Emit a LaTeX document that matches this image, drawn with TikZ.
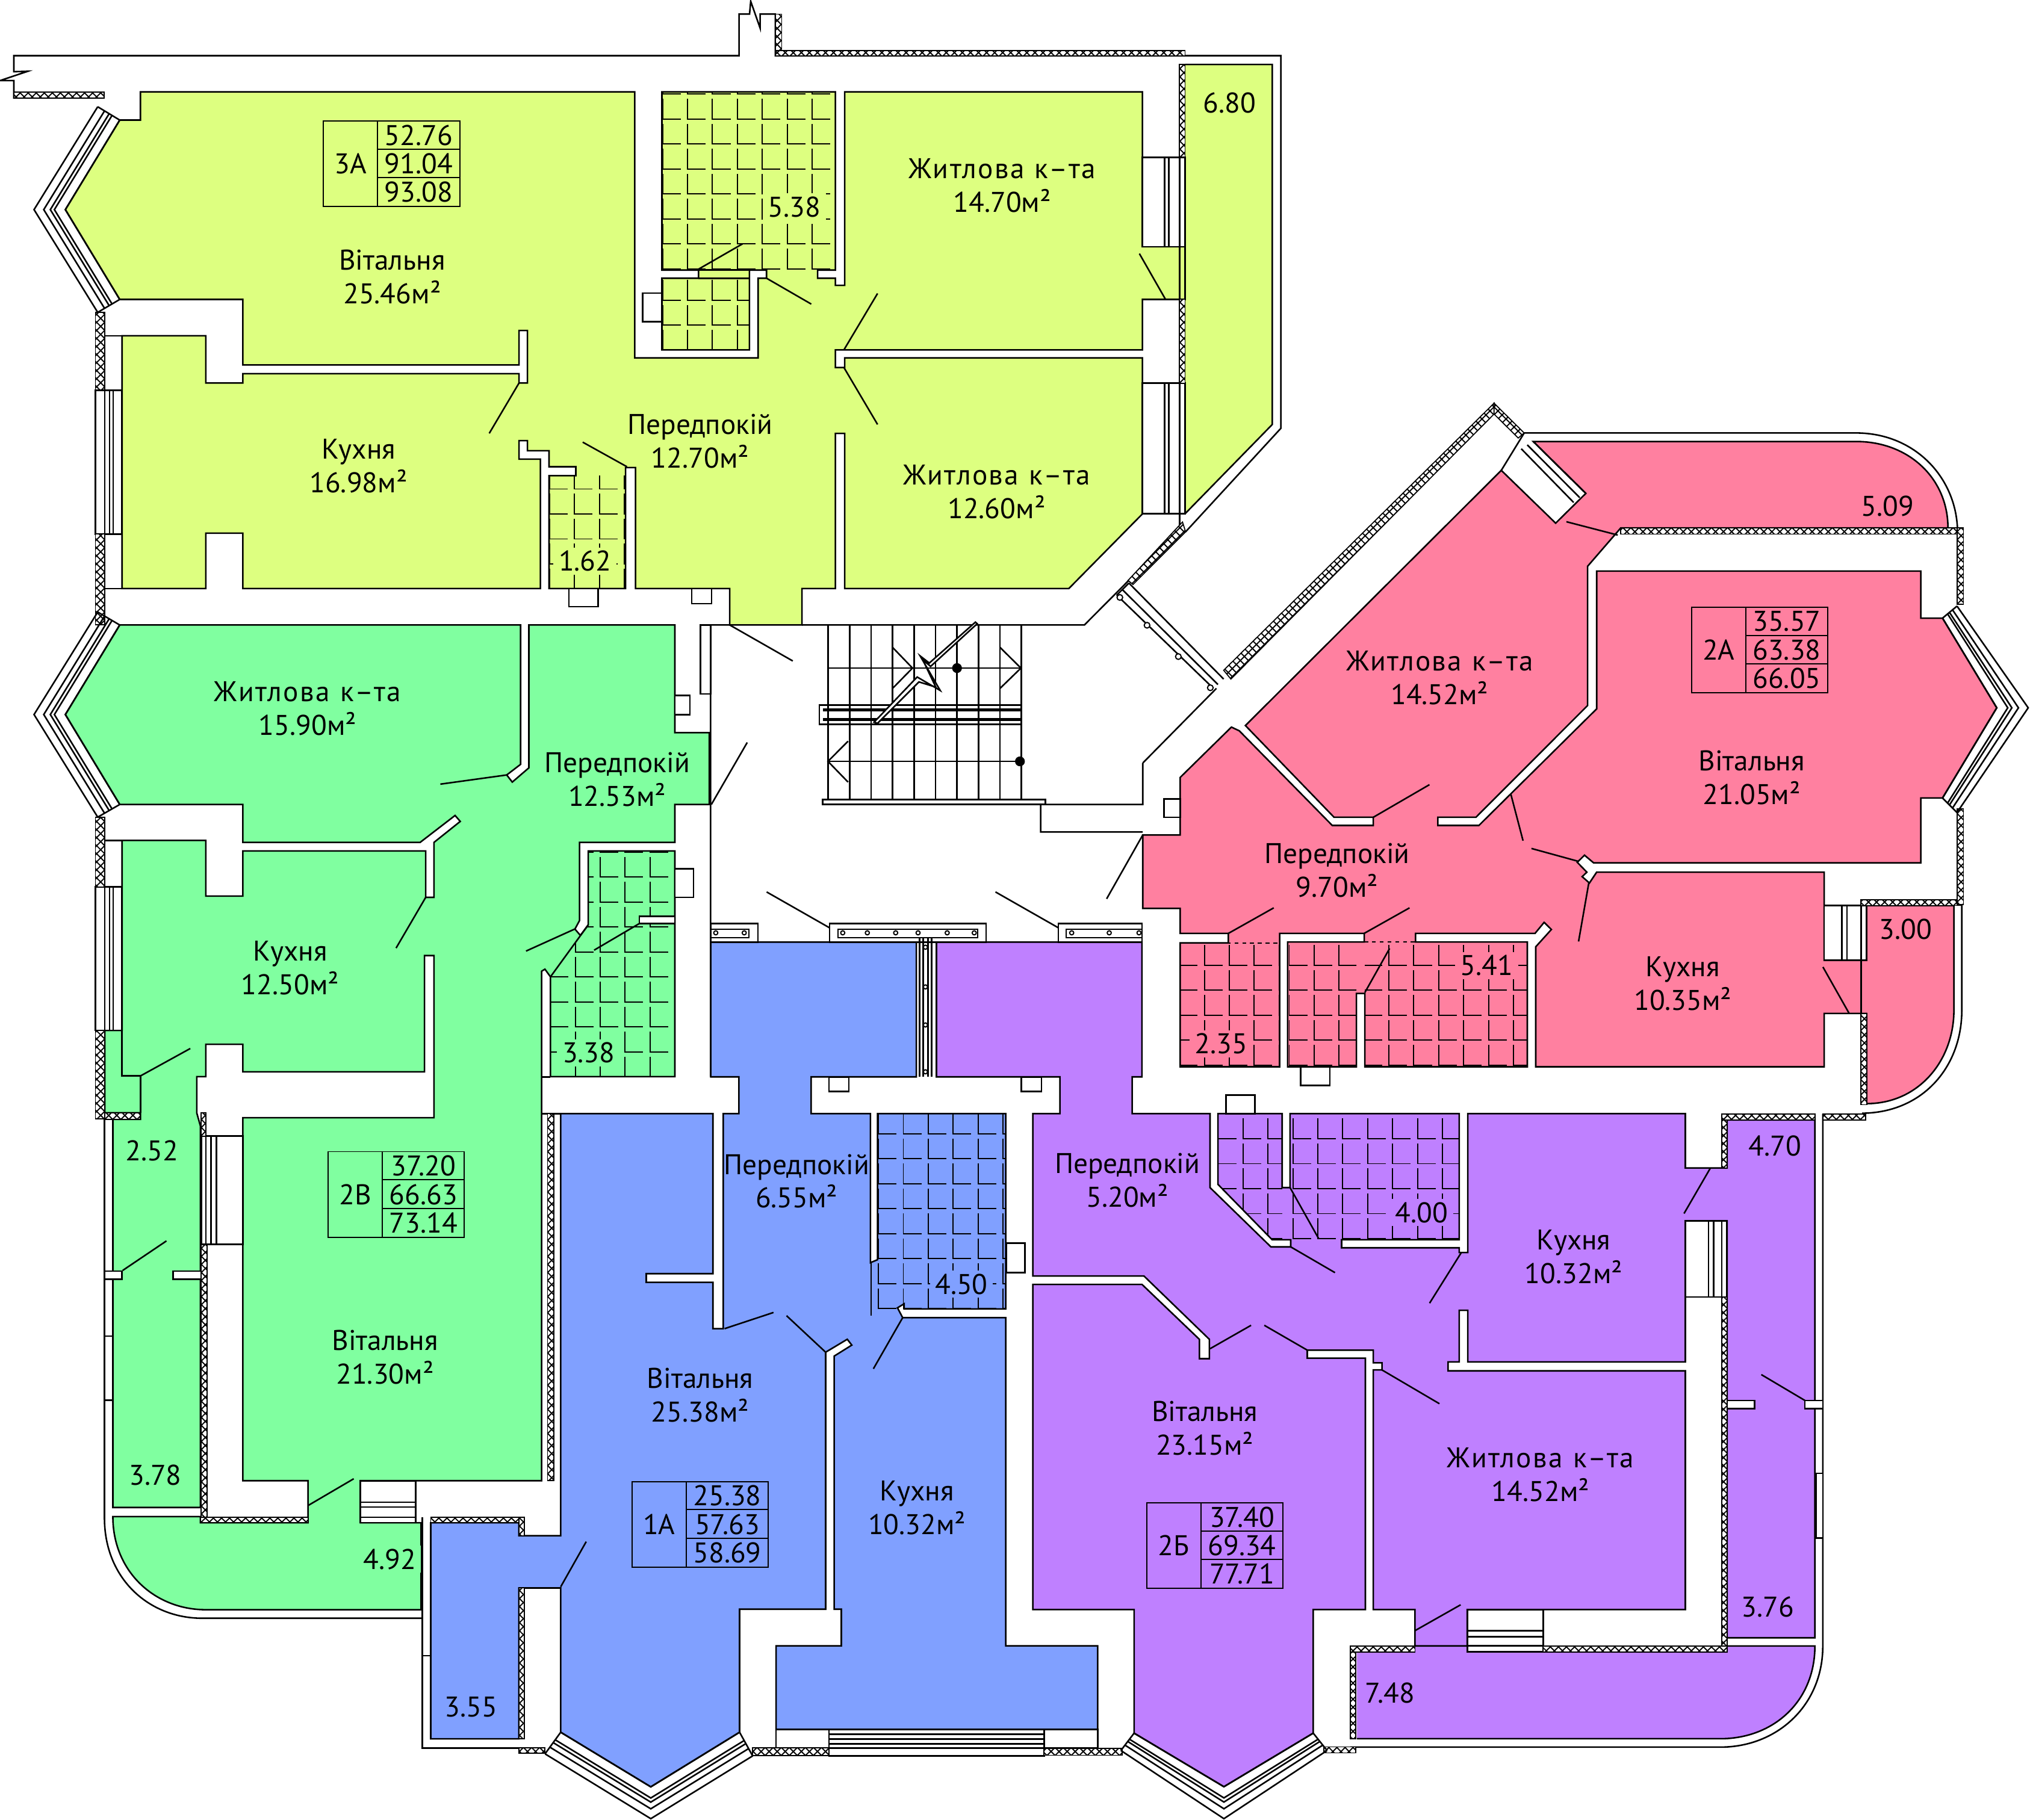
\documentclass[tikz,border=0pt]{standalone}
\usepackage{fontspec}
\setmainfont{PT Sans}
\usetikzlibrary{calc, patterns.meta}

\definecolor{flatYellow}{RGB}{221,255,128}
\definecolor{flatGreen}{RGB}{128,255,160}
\definecolor{flatBlue}{RGB}{128,160,255}
\definecolor{flatPurple}{RGB}{191,128,255}
\definecolor{flatRed}{RGB}{255,128,160}

\tikzset{
	wallline/.style = {line width = 1.2pt, line join = miter},
	thinline/.style = {line width = 0.9pt},
	whitebox/.style = {draw, line width = 1.2pt, fill = white},
	hatchwall/.style = {draw, line width = 0.8pt,
		preaction = {fill = white},
		preaction = {pattern = {Lines[angle = 45, distance = 4.4pt, line width = 0.9pt]}},
		pattern = {Lines[angle = -45, distance = 4.4pt, line width = 0.9pt]}},
	roomtext/.style = {align = center, inner sep = 1pt, font = \fontsize{22}{26}\selectfont},
	areatext/.style = {inner sep = 1.5pt, font = \fontsize{22}{26}\selectfont},
}

\newcommand{\bedname}{{\addfontfeature{LetterSpace=5}Житлова\hspace{8pt}к–та}}
\newcommand{\baywindow}[6]{
	\foreach \t in {0,0.31,0.52,0.65,1}
		\draw [wallline] ($(#4)!\t!(#1)$) -- ($(#5)!\t!(#2)$) -- ($(#6)!\t!(#3)$);
	\draw [wallline] (#4) -- (#1) (#6) -- (#3);
}
\newcommand{\tilegrid}[3]{
	\begin{scope}
		\clip #1;
		\foreach \i in {-2,...,10}
			\foreach \j in {-1,...,8}
				\draw [thinline] ({#2+\i*19.25},{#3+\j*19.3-15.6}) -- ++(0,15.6) -- ++(14,0);
	\end{scope}
}
\newcommand{\flatbox}[7]{
	\begin{scope}[shift = {(#2,#3)}]
		\draw [thinline] (0,0) rectangle (105.4,66.2) (42,0) -- (42,66.2) (42,21.8) -- (105.4,21.8) (42,43.9) -- (105.4,43.9);
		\node [areatext] (#1Name) at (21,33) {#4};
		\node [areatext] (#1Living) at (73.7,11) {#5};
		\node [areatext] (#1Total) at (73.7,33) {#6};
		\node [areatext] (#1Full) at (73.7,55) {#7};
	\end{scope}
}
\newcommand{\roomlabel}[5]{
	\node [roomtext] (#1) at (#2,#3) {#4\\#5м²};
}
\newcommand{\arealabel}[5]{
	\node [areatext, fill = #5, inner xsep = 4pt, inner ysep = 2.5pt] (#1) at (#2,#3) {#4};
}

\begin{document}
\begin{tikzpicture}[x = 1pt, y = -1pt]
	\useasboundingbox (0,0) rectangle (1568.4,1406.5);

	\begin{scope}
		\fill [flatYellow] (915.6,49.8) -- (983,49.8) -- (983,328) -- (915.6,397) -- cycle;
		\draw [wallline] (915.6,49.8) -- (983,49.8) -- (983,328) -- (915.6,397);
		\draw [wallline] (911.3,43) -- (989.6,43) -- (989.6,331) -- (916,411);
		\draw [wallline, fill = flatYellow] (108.5,71) -- (490.4,71) -- (490.4,276.6) -- (585.7,276.6) -- (585.7,215) -- (592.2,215) -- (592.2,208.7) -- (579,208.7) -- (579,270.4) -- (511.4,270.4) -- (511.4,215) -- (539.7,215) -- (539.7,208.7) -- (511.4,208.7) -- (511.4,71) -- (645.4,71) -- (645.4,208.7) -- (631.7,208.7) -- (631.7,215) -- (645.4,215) -- (645.4,220.5) -- (652.6,220.5) -- (652.6,71) -- (882.6,71) -- (882.6,190.6) -- (915.6,190.6) -- (915.6,231.4) -- (882.6,231.4) -- (882.6,270.4) -- (652.6,270.4) -- (645.4,270.4) -- (645.4,284) -- (652.6,284) -- (652.6,276.6) -- (882.6,276.6) -- (882.6,397.2) -- (825.8,454.8) -- (652.6,454.8) -- (652.6,334.9) -- (645.4,334.9) -- (645.4,454.8) -- (619.6,454.8) -- (619.6,483) -- (563.8,483) -- (563.8,454.8) -- (491,454.8) -- (491,361.3) -- (483.3,361.3) -- (483.3,454.8) -- (424.2,454.8) -- (424.2,367.6) -- (444.9,367.6) -- (444.9,360.7) -- (424.2,360.7) -- (424.2,348.3) -- (407.5,348.3) -- (407.5,340.5) -- (401,340.5) -- (401,354.8) -- (417.5,354.8) -- (417.5,454.8) -- (187.6,454.8) -- (187.6,412) -- (159,412) -- (159,454.8) -- (94.3,454.8) -- (94.3,259.5) -- (159,259.5) -- (159,296) -- (187.6,296) -- (187.6,288.8) -- (401,288.8) -- (401,296) -- (407.5,296) -- (407.5,255.4) -- (401,255.4) -- (401,282) -- (187.6,282) -- (187.6,231.4) -- (92.5,231.4) -- (50.5,162) -- (92.5,92.8) -- (108.5,92.8) -- cycle;
		\draw [wallline] (539.7,208.7) -- (579,208.7) (539.7,215) -- (579,215);
	\end{scope}

	\begin{scope}
		\draw [wallline, fill = flatGreen] (278.4,1144.3) -- (418.4,1144.3) -- (418.4,750.6) -- (421,749) -- (425.3,754.9) -- (425.3,832) -- (521.4,832) -- (521.4,657.6) -- (454.5,657.6) -- (454.5,714.7) -- (448.4,722.9) -- (444.2,718) -- (447.7,711.5) -- (447.7,651) -- (521.4,651) -- (521.4,621.7) -- (548,621.7) -- (548,566.2) -- (521.4,566.2) -- (521.4,483) -- (408.6,483) -- (408.6,593.4) -- (395.8,604.4) -- (391.5,598.9) -- (402.2,590.7) -- (402.2,483) -- (92.5,483) -- (50.5,552.2) -- (92.5,621.7) -- (187.6,621.7) -- (187.6,651) -- (324.6,651) -- (351.6,630.2) -- (355.6,634.8) -- (335.3,651) -- (335.3,693.5) -- (328.9,693.5) -- (328.9,657.6) -- (187.6,657.6) -- (187.6,692.5) -- (159,692.5) -- (159,649.5) -- (94.3,649.5) -- (94.3,796.3) -- (81,796.3) -- (81,860) -- (108.5,860) -- (108.5,865) -- (87.2,865) -- (87.2,1165) -- (154.8,1165) -- (154.8,870) -- (152,860) -- (152,832) -- (159,832) -- (159,807) -- (187.6,807) -- (187.6,828.3) -- (328,828.3) -- (328,738.5) -- (335.3,738.5) -- (335.3,863.8) -- (187.6,863.8) -- (187.6,1144.3) -- (238,1144.3) -- (238,1176.8) -- (154.8,1176.8) -- (154.8,1172) -- (87.2,1172) .. controls (87.2,1215) and (120,1244) .. (158.9,1244) -- (325.3,1244) -- (325.3,1176.8) -- (278.4,1176.8) -- cycle;
		\draw [wallline] (94.3,796.3) -- (94.3,831.5) -- (108.5,831.5) -- (108.5,860);
		\draw [wallline] (80.7,865) -- (80.7,1173) .. controls (80.7,1220) and (115,1250.6) .. (156.3,1250.6) -- (326.3,1250.6);
		\draw [wallline] (418.4,832.2) -- (425.3,832.2) (418.4,860.6) -- (433.2,860.6);
	\end{scope}

	\begin{scope}
		\draw [wallline, fill = flatBlue] (549.1,728.1) -- (708,728.1) -- (708,832.2) -- (626.7,832.2) -- (626.7,860.6) -- (672.5,860.6) -- (672.5,975.8) -- (678,973.5) -- (678,860.6) -- (777,860.6) -- (777,1011.6) -- (698.5,1011.6) -- (698.5,1007.6) -- (693.4,1010.7) -- (697.4,1018.3) -- (777,1018.3) -- (777,1271.9) -- (848.1,1271.9) -- (848.1,1336.6) -- (599.6,1336.6) -- (599.6,1271.9) -- (650,1271.9) -- (650,1243.6) -- (644.5,1243.6) -- (644.5,1048) -- (658.1,1039.5) -- (654.6,1035) -- (637.9,1045) -- (637.9,1243.6) -- (571.4,1243.6) -- (571.4,1338.7) -- (502.8,1380.9) -- (433.2,1338.7) -- (433.2,1227.2) -- (400.9,1227.2) -- (400.9,1343.8) -- (332.8,1343.8) -- (332.8,1176.8) -- (400.9,1176.8) -- (400.9,1186.8) -- (433.2,1186.8) -- (433.2,860.6) -- (550.8,860.6) -- (550.8,984.3) -- (499.3,984.3) -- (499.3,991) -- (550.8,991) -- (550.8,1026.8) -- (558.8,1026.8) -- (558.8,860.6) -- (570.9,860.6) -- (570.9,832.2) -- (549.1,832.2) -- cycle;
		\draw [wallline] (326.3,1172.6) -- (326.3,1350.8) -- (421,1350.8) (326.3,1279.5) -- (332.8,1279.5);
		\draw [thinline] (673.2,975.8) -- (673.2,1016.8);
	\end{scope}

	\begin{scope}
		\draw [wallline, fill = flatPurple] (723.5,728.1) -- (882.3,728.1) -- (882.3,832.2) -- (874.7,832.2) -- (874.7,860.6) -- (934.9,860.6) -- (934.9,917.8) -- (981.9,963.6) -- (997.2,963.6) -- (997.2,958.1) -- (982.9,958.1) -- (941,915.3) -- (941,860.6) -- (990.6,860.6) -- (990.6,917.8) -- (996.7,917.8) -- (996.7,860.6) -- (1127.4,860.6) -- (1127.4,958.1) -- (1036.5,958.1) -- (1036.5,964.3) -- (1127.4,964.3) -- (1127.4,968) -- (1134,968) -- (1134,860.6) -- (1302.1,860.6) -- (1302.1,902.6) -- (1334.3,902.6) -- (1334.3,865.5) -- (1402.2,865.5) -- (1402.2,1265.7) -- (1334.3,1265.7) -- (1334.3,943.6) -- (1302.1,943.6) -- (1302.1,1052.5) -- (1134,1052.5) -- (1134,1012.6) -- (1127.4,1012.6) -- (1127.4,1052.5) -- (1118.8,1052.5) -- (1118.8,1059.4) -- (1302.1,1059.4) -- (1302.1,1243.9) -- (1133.6,1243.9) -- (1133.6,1272) -- (1093.2,1272) -- (1093.2,1243.9) -- (1061,1243.9) -- (1061,1058.7) -- (1067.7,1058.7) -- (1067.7,1053.2) -- (1061,1053.2) -- (1061,1043.4) -- (1010,1043.4) -- (1010,1049.6) -- (1054.9,1049.6) -- (1054.9,1243.9) -- (1014.6,1243.9) -- (1014.6,1339.4) -- (945.6,1380.8) -- (876.2,1339.4) -- (876.2,1243.9) -- (798,1243.9) -- (798,992.6) -- (882.3,992.6) -- (926.7,1035.1) -- (926.7,1050) -- (934.4,1050) -- (934.4,1035.1) -- (883.8,986.1) -- (798,986.1) -- (798,860.6) -- (818.9,860.6) -- (818.9,832.2) -- (723.5,832.2) -- cycle;
		\fill [flatPurple] (1048.3,1276.6) -- (1093.2,1276.6) -- (1093.2,1272) -- (1133.6,1272) -- (1133.6,1276.6) -- (1334.3,1276.6) -- (1334.3,1272) -- (1402.2,1272) .. controls (1402.2,1315) and (1370,1343.7) .. (1329.2,1343.7) -- (1048.3,1343.7) -- cycle;
		\draw [wallline] (1334.3,1272) -- (1402.2,1272) .. controls (1402.2,1315) and (1370,1343.7) .. (1329.2,1343.7) -- (1048.3,1343.7) (1093.2,1272) -- (1133.6,1272);
		\draw [wallline] (1043.2,1350.2) -- (1329.2,1350.2) .. controls (1373,1350.2) and (1408.3,1318) .. (1408.3,1272) -- (1408.3,860.8);
	\end{scope}

	\begin{scope}
		\draw [wallline, fill = flatRed] (951.4,561.9) -- (957.5,564.8) -- (1029.3,637.9) -- (1061,637.9) -- (1061,631.6) -- (1030.7,631.6) -- (962.2,560.7) -- (1159.9,363.5) -- (1201.9,404.3) -- (1225.2,381.3) -- (1184.6,341.2) -- (1434,341.2) .. controls (1475,341.2) and (1505,370) .. (1505,408) -- (1252.2,408) -- (1226.6,437.6) -- (1226.6,545.2) -- (1140.3,631.6) -- (1110.9,631.6) -- (1110.9,637.9) -- (1142.6,637.9) -- (1233.6,547.8) -- (1233.6,441.3) -- (1484,441.3) -- (1484,477.7) -- (1500.8,477.7) -- (1542.7,547) -- (1500.8,616.7) -- (1484,616.7) -- (1484,666.8) -- (1231.2,666.8) -- (1224.2,660.9) -- (1218.6,666.4) -- (1226,674) -- (1222.4,677.5) -- (1228,682.4) -- (1233.6,674) -- (1409.4,674) -- (1409.4,742) -- (1442,742) -- (1442,699.8) -- (1509.6,699.8) -- (1509.6,780.6) .. controls (1509.6,820) and (1482,853) .. (1442,852.9) -- (1442,783.2) -- (1409.4,783.2) -- (1409.4,824.4) -- (1186.5,824.4) -- (1186.5,731.7) -- (1198.6,718.3) -- (1193,712.8) -- (1186,721.3) -- (1093.7,721.3) -- (1093.7,728) -- (1180,728) -- (1180,824.4) -- (1054.5,824.4) -- (1054.5,767.7) -- (1048,767.7) -- (1048,824.4) -- (994.8,824.4) -- (994.8,728) -- (1054,728) -- (1054,721.3) -- (988.7,721.3) -- (988.7,824.4) -- (911.8,824.4) -- (911.8,728.7) -- (949,728.7) -- (949,721.3) -- (911.8,721.3) -- (911.8,702) -- (882.9,702) -- (882.9,645.3) -- (911.8,645.3) -- (911.8,600.8) -- cycle;
		\draw [wallline] (1177.6,334.6) -- (1434,334.6) .. controls (1480,334.6) and (1512.4,370) .. (1512.4,411.7);
		\draw [wallline] (1515.7,699.8) -- (1515.7,780.6) .. controls (1515.7,825) and (1485,860) .. (1438.7,860.3);
		\draw [wallline] (1437.8,742) -- (1437.8,783.2);
		\draw [thinline, dashed] (911.8,728.7) -- (988.7,728.7) (1054,728) -- (1093.7,728);
	\end{scope}

	\tilegrid{(511.4,71) rectangle (645.4,208.7)}{531.2}{91.9}
	\tilegrid{(511.4,215) rectangle (579,270.4)}{531.2}{232}
	\tilegrid{(424.2,367.6) rectangle (483.3,454.8)}{443.8}{377.9}
	\tilegrid{(454.5,657.6) -- (521.4,657.6) -- (521.4,832) -- (425.3,832) -- (425.3,754.9) -- (454.5,714.7) -- cycle}{463.7}{677.8}
	\tilegrid{(678,860.6) rectangle (777,1011.6)}{697.9}{876.2}
	\tilegrid{(941,860.6) -- (990.6,860.6) -- (990.6,958.1) -- (982.9,958.1) -- (941,915.3) -- cycle}{960.4}{880}
	\tilegrid{(996.7,860.6) rectangle (1127.4,958.1)}{960.4}{880}
	\tilegrid{(911.8,728.7) rectangle (988.7,824.4)}{930.5}{746}
	\tilegrid{(994.8,728) rectangle (1048,824.4)}{1015.3}{746}
	\tilegrid{(1054.5,728) rectangle (1180,824.4)}{1015.3}{746}

	\foreach \xa/\ya/\xb/\yb in {73.7/301.5/94.3/412.7, 73.7/685.4/94.3/796.3, 882.6/121.5/915.6/190.6, 882.6/296/915.6/397, 155.5/877.9/187.6/961.7, 80.7/1032.5/87.2/1082, 80.7/982.4/94.3/988.5, 133.6/982.4/159/988.5, 494/708.2/521.4/713.7, 278.4/1144.3/321.2/1176.8, 1302.1/943.6/1334.3/1002.4, 1133.6/1243.9/1192.3/1276.6, 1409.4/699.8/1442/742, 1403.2/1138.6/1408.3/1188.7, 1330.2/1082.3/1355.7/1088.5, 1394.5/1082.3/1408.3/1088.5, 599.6/1336.6/640.4/1350.8, 640.4/1336.6/806.7/1356.9, 806.7/1336.6/848.1/1351, 496.5/226.5/511.4/248.6, 439.5/454.8/462/468.8, 534.4/454.8/549.8/466.6, 521.4/537.5/533/552.2, 521.4/671.3/535.8/693.5, 640.5/832.2/655.9/843.6, 789.2/832.2/804.7/843.6, 777.6/960.7/791.9/983.5, 947.2/846.3/969.6/860.6, 1005/824.4/1027.4/838.8, 899.2/617.5/911.8/631.6, 541.3/483/549/536.2}
		\path [whitebox] (\xa,\ya) rectangle (\xb,\yb);

	\draw [wallline] (81,301.5) -- (81,412.7) (84.7,301.5) -- (84.7,412.7) (87.5,301.5) -- (87.5,412.7)
		(81,685.4) -- (81,796.3) (84.7,685.4) -- (84.7,796.3) (87.5,685.4) -- (87.5,796.3)
		(81,259.5) -- (94.3,259.5) (81,259.5) -- (81,301.5) (81,412.7) -- (81,454.8) -- (94.3,454.8) (81,649.5) -- (81,685.4) -- (81,649.5) -- (94.3,649.5);
	\draw [wallline] (899.9,121.5) -- (899.9,190.6) (903,121.5) -- (903,190.6) (911.3,121.5) -- (911.3,190.6)
		(899.9,296) -- (899.9,397) (903,296) -- (903,397) (911.3,190.6) -- (911.3,231.4) (911.3,296) -- (911.3,411);
	\draw [wallline] (163,877.9) -- (163,961.7) (167.3,877.9) -- (167.3,961.7) (159,877.9) -- (159,961.7);
	\draw [wallline] (1320,943.6) -- (1320,1002.4) (1324,943.6) -- (1324,1002.4) (1330.2,943.6) -- (1330.2,1002.4);
	\draw [wallline] (1133.6,1260.2) -- (1192.3,1260.2) (1133.6,1264.9) -- (1192.3,1264.9) (1133.6,1271.8) -- (1192.3,1271.8);
	\draw [wallline] (278.4,1161) -- (321.2,1161) (278.4,1164.6) -- (321.2,1164.6) (278.4,1172.6) -- (321.2,1172.6);
	\draw [wallline] (1423,699.8) -- (1423,742) (1427,699.8) -- (1427,742) (1437.8,699.8) -- (1437.8,742);
	\draw [wallline] (640.4,1340.2) -- (806.7,1340.2) (640.4,1343.9) -- (806.7,1343.9) (640.4,1347.8) -- (806.7,1347.8) (640.4,1350.8) -- (806.7,1350.8);

	\draw [wallline] (80.4,75.7) -- (10.7,75.7) -- (10.7,62.3) -- (0,62.3) -- (21.4,55.1) -- (10.7,55.4) -- (10.7,43) -- (571,43) -- (571,10.9) -- (579.1,10.9) -- (580,1) -- (587.3,21.8) -- (587.3,10.9) -- (599,10.9) -- (599,43) -- (915.6,43);

	\foreach \xa/\ya/\xb/\yb in {10.7/71/80.4/75.7, 599/10.9/604/39, 599/39/915.6/43, 911.3/49.8/915.6/121.5, 911.3/231.4/915.6/296, 73.7/241.4/81/301.5, 73.7/412.7/81/482.8, 73.7/631.5/81/685.4, 73.7/796.3/81/864.8, 81/860/108.5/865, 155.5/860/159/878, 155.3/962/159.9/1172.6, 154.8/1172.6/238/1176.8, 423/860.6/428/1144.3, 332.8/1172.6/403.4/1176.8, 400.9/1172.6/405/1186.8, 400.9/1227.2/405/1343.8, 401/1350.8/421/1354.8, 581.5/1350.8/640.4/1356.9, 806.7/1351/867/1356.5, 1022.8/1350/1047.3/1354.6, 1043.2/1272/1047.3/1343.7, 1043.2/1272/1093.2/1276.6, 1192.3/1272/1334.3/1276.6, 1330.2/860.8/1334.3/902.6, 1330.2/1002.4/1334.3/1271.8, 1330.2/860.8/1402.2/865.5, 1408.3/860.8/1441.5/865.5, 1437.8/783.2/1442.2/853.7, 1437.8/695.3/1515.7/699.8, 1512/408/1517/467, 1512/625/1517/699, 1252.2/408/1512/412.8}
		\path [hatchwall] (\xa,\ya) rectangle (\xb,\yb);
	\path [hatchwall] (913.6,403.4) -- (916,411) -- (875.4,451.7) -- (871.5,448.6) -- cycle;
	\path [hatchwall] (945.4,518) -- (1154.3,311.6) -- (1154.3,320) -- (951,524.8) -- cycle;
	\path [hatchwall] (1154.3,311.6) -- (1177.6,334.6) -- (1173,338.5) -- (1154.3,320) -- cycle;

	\baywindow{92.5,92.8}{50.5,162}{92.5,231.4}{75.5,82.5}{26.3,162}{75.5,241.4}
	\baywindow{92.5,483}{50.5,552.2}{92.5,621.7}{75.5,473}{26.3,552.2}{75.5,631.5}
	\baywindow{1500.8,477.7}{1542.7,547}{1500.8,616.7}{1512,468.4}{1567,547}{1512,627.9}
	\baywindow{433.2,1338.7}{502.8,1380.9}{571.4,1338.7}{421.1,1355.4}{502.8,1405.5}{581.5,1357}
	\baywindow{876.2,1339.4}{945.6,1380.8}{1014.6,1339.4}{866,1352.8}{945.6,1405.5}{1025.3,1352.8}

	\draw [wallline] (1184.6,341.2) -- (1225.2,381.3) (1180,343.8) -- (1220.5,384.6) (1175.3,346.8) -- (1215.8,388.3) (1177.6,334.6) -- (1159.9,363.5);
	\draw [wallline] (862.8,459.9) -- (937.5,532) (867.5,456) -- (941,529) (872.2,450.6) -- (945.4,524.8) (862.8,459.9) -- (872.2,450.6);
	\foreach \xc/\yc in {865.2/461.7, 886.2/483.2, 910.4/507.4, 935.1/531.5}
		\draw [thinline, fill = white] (\xc,\yc) circle (2.2);

	\begin{scope}
		\draw [wallline] (549,483) -- (549,832.2) (549,483) -- (563.8,483) (619.6,483) -- (837.8,483) -- (872,448.6);
		\draw [wallline] (882.9,589.7) -- (939.8,532) (882.9,589.7) -- (882.9,621.7) -- (804,621.7) -- (804,643) -- (882.9,643);
		\foreach \xs in {639.7,656.4,673,689.6,706.2,722.8,739.4,756,772.6,789.2}
			\draw [wallline] (\xs,483) -- (\xs,621);
		\draw [wallline] (639.7,516.3) -- (788.8,516.3) (639.7,588.4) -- (788.8,588.4);
		\path [whitebox] (633,545) rectangle (788.8,559.7);
		\draw [line width = 2.2pt] (636,548.6) -- (788.8,548.6) (636,556) -- (788.8,556);
		\foreach \xs in {639.7,656.4,673,689.6,706.2,722.8,739.4,756,772.6,789.2}
			\draw [wallline] (\xs,559.7) -- (\xs,545);
		\path [whitebox] (635.5,617.8) rectangle (807.7,621.7);
		\draw [wallline] (689.6,500.3) -- (705,516.3) -- (689.6,532) (772.6,500.3) -- (788.8,516.3) -- (772.6,532) (655.2,572.8) -- (639.7,588.4) -- (655.2,604.4);
		\fill (739.4,516.3) circle (3.8) (788,588.4) circle (3.8);
		\draw [wallline, fill = white] (753.6,480.8) -- (718,512.4) -- (710.9,506.9) -- (726.4,533.6) -- (708.6,523.2) -- (675.3,558.1) -- (678,559) -- (710,527) -- (723,531) -- (713,510) -- (719,515) -- (755,482) -- cycle;
	\end{scope}

	\begin{scope}
		\path [whitebox] (640.9,713.7) rectangle (761.9,728.1) (549,713.7) rectangle (585.6,728.1) (817.7,713.7) rectangle (882.3,728.1);
		\draw [thinline] (647.3,718) rectangle (755.5,724.5) (549,718) rectangle (578.8,724.5) (823.9,718) rectangle (882.3,724.5);
		\draw [wallline] (708,728.1) -- (708,832.2) (710.5,724.5) -- (710.5,832.2) (713.3,724.5) -- (713.3,832.2) (716.9,724.5) -- (716.9,832.2) (719.9,724.5) -- (719.9,832.2) (723.5,728.1) -- (723.5,832.2);
		\foreach \xc in {651.1,670.1,692,709.3,731.8,752.7,553,575,828,857,880}
			\draw [thinline, fill = white] (\xc,720.9) circle (1.6);
		\foreach \yc in {732,762.7,792.1,828.3}
			\draw [thinline, fill = white] (715,\yc) circle (1.6);
	\end{scope}

	\begin{scope}
		\draw [wallline] (401,296) -- (378,334.9) (484.4,360.7) -- (450.2,341.7) (539.7,208) -- (573.6,188.5) (592.2,215) -- (626.8,235) (652,270.4) -- (678,226.8) (652,284) -- (678,328) (880.3,196) -- (900.5,231.4);
		\draw [wallline] (391.5,598.9) -- (340.2,606) (328.9,693.5) -- (306,732.7) (108.5,831.5) -- (147,810.3) (444,718) -- (406.4,735) (454.5,714.7) -- (425.3,754.9) (494,713.7) -- (459,734.3) (94.8,981.8) -- (128.6,959) (238,1163.5) -- (273.3,1142.8);
		\draw [wallline] (563.8,483) -- (612.5,510.8) (549.6,621.7) -- (577.3,573.8) (640.9,717) -- (592.3,689.3) (817.7,717) -- (769.1,689.3) (882.9,645.3) -- (855,694.6);
		\draw [wallline] (433.2,1226.3) -- (452.9,1191.4) (637.9,1045) -- (607.7,1016.8) (559.8,1026.8) -- (597.6,1014.3) (697.4,1018.3) -- (674.8,1057.8);
		\draw [wallline] (997.2,963.6) -- (1031.4,983.5) (996.7,917.8) -- (1018.7,957) (1129,968) -- (1104.5,1007.1) (1321.5,902.6) -- (1301.1,937.8) (1067.7,1058.7) -- (1112.1,1084.8) (1010,1043.4) -- (976.8,1024.2) (934.9,1042.3) -- (966.6,1024.2) (1093.2,1260.2) -- (1128.5,1240.2) (1394.5,1082.3) -- (1360.8,1062.3);
		\draw [wallline] (1210.2,403.2) -- (1249.9,413.5) (1061,631.6) -- (1104.4,606.4) (1167.3,613.8) -- (1176.7,649.7) (1183.2,655.7) -- (1219.6,665.7) (1227.5,682.4) -- (1219.6,727.6) (949.1,721.3) -- (984.1,701.6) (1054,721.3) -- (1089,701.6) (1054.5,767) -- (1073.6,733) (1408.4,747.3) -- (1428.5,782.9);
	\end{scope}

	\flatbox{flatThreeA}{249.8}{93.5}{3А}{52.76}{91.04}{93.08}
	\flatbox{flatTwoV}{253.4}{890}{2В}{37.20}{66.63}{73.14}
	\flatbox{flatOneA}{488.2}{1144.9}{1А}{25.38}{57.63}{58.69}
	\flatbox{flatTwoB}{885.9}{1161.4}{2Б}{37.40}{69.34}{77.71}
	\flatbox{flatTwoA}{1306.8}{469.2}{2А}{35.57}{63.38}{66.05}

	\roomlabel{livingThreeA}{303}{213.8}{Вітальня}{25.46}
	\roomlabel{kitchenThreeA}{277}{360.2}{Кухня}{16.98}
	\roomlabel{hallThreeA}{541}{341}{Передпокій}{12.70}
	\roomlabel{bedThreeA}{774.3}{143.3}{\bedname}{14.70}
	\roomlabel{bedThreeB}{770}{380}{\bedname}{12.60}
	\roomlabel{bedTwoV}{237.7}{547.6}{\bedname}{15.90}
	\roomlabel{hallTwoV}{476.9}{602.4}{Передпокій}{12.53}
	\roomlabel{kitchenTwoV}{224.2}{748.2}{Кухня}{12.50}
	\roomlabel{livingTwoV}{297.5}{1049}{Вітальня}{21.30}
	\roomlabel{livingOneA}{541}{1078.2}{Вітальня}{25.38}
	\roomlabel{kitchenOneA}{708.5}{1165.2}{Кухня}{10.32}
	\roomlabel{hallOneA}{615.5}{912.8}{Передпокій}{6.55}
	\roomlabel{hallTwoB}{871}{912.2}{Передпокій}{5.20}
	\roomlabel{kitchenTwoB}{1215.8}{971.2}{Кухня}{10.32}
	\roomlabel{livingTwoB}{930.8}{1103.7}{Вітальня}{23.15}
	\roomlabel{bedTwoB}{1190.3}{1139.5}{\bedname}{14.52}
	\roomlabel{bedTwoA}{1112.3}{524}{\bedname}{14.52}
	\roomlabel{livingTwoA}{1353.4}{600.8}{Вітальня}{21.05}
	\roomlabel{hallTwoA}{1033}{672.5}{Передпокій}{9.70}
	\roomlabel{kitchenTwoA}{1300.2}{759.9}{Кухня}{10.35}

	\arealabel{bathThreeA}{613.7}{159.8}{5.38}{flatYellow}
	\arealabel{wcThreeA}{452}{433.6}{1.62}{flatYellow}
	\arealabel{balconyThreeA}{949.8}{79.4}{6.80}{flatYellow}
	\arealabel{bathTwoV}{454.8}{813.6}{3.38}{flatGreen}
	\arealabel{balconyTwoVa}{117.4}{889.3}{2.52}{flatGreen}
	\arealabel{balconyTwoVb}{120}{1139.8}{3.78}{flatGreen}
	\arealabel{balconyTwoVc}{301}{1205}{4.92}{flatGreen}
	\arealabel{balconyOneA}{364}{1319}{3.55}{flatBlue}
	\arealabel{bathOneA}{742.8}{992.5}{4.50}{flatBlue}
	\arealabel{bathTwoB}{1098.3}{937}{4.00}{flatPurple}
	\arealabel{balconyTwoBa}{1371.5}{885.5}{4.70}{flatPurple}
	\arealabel{balconyTwoBb}{1365.9}{1242}{3.76}{flatPurple}
	\arealabel{balconyTwoBc}{1073.8}{1308.5}{7.48}{flatPurple}
	\arealabel{balconyTwoAa}{1458.3}{391.3}{5.09}{flatRed}
	\arealabel{balconyTwoAb}{1472.3}{718.3}{3.00}{flatRed}
	\arealabel{bathTwoAa}{943.5}{806.6}{2.35}{flatRed}
	\arealabel{bathTwoAb}{1148.7}{746.2}{5.41}{flatRed}
\end{tikzpicture}
\end{document}
